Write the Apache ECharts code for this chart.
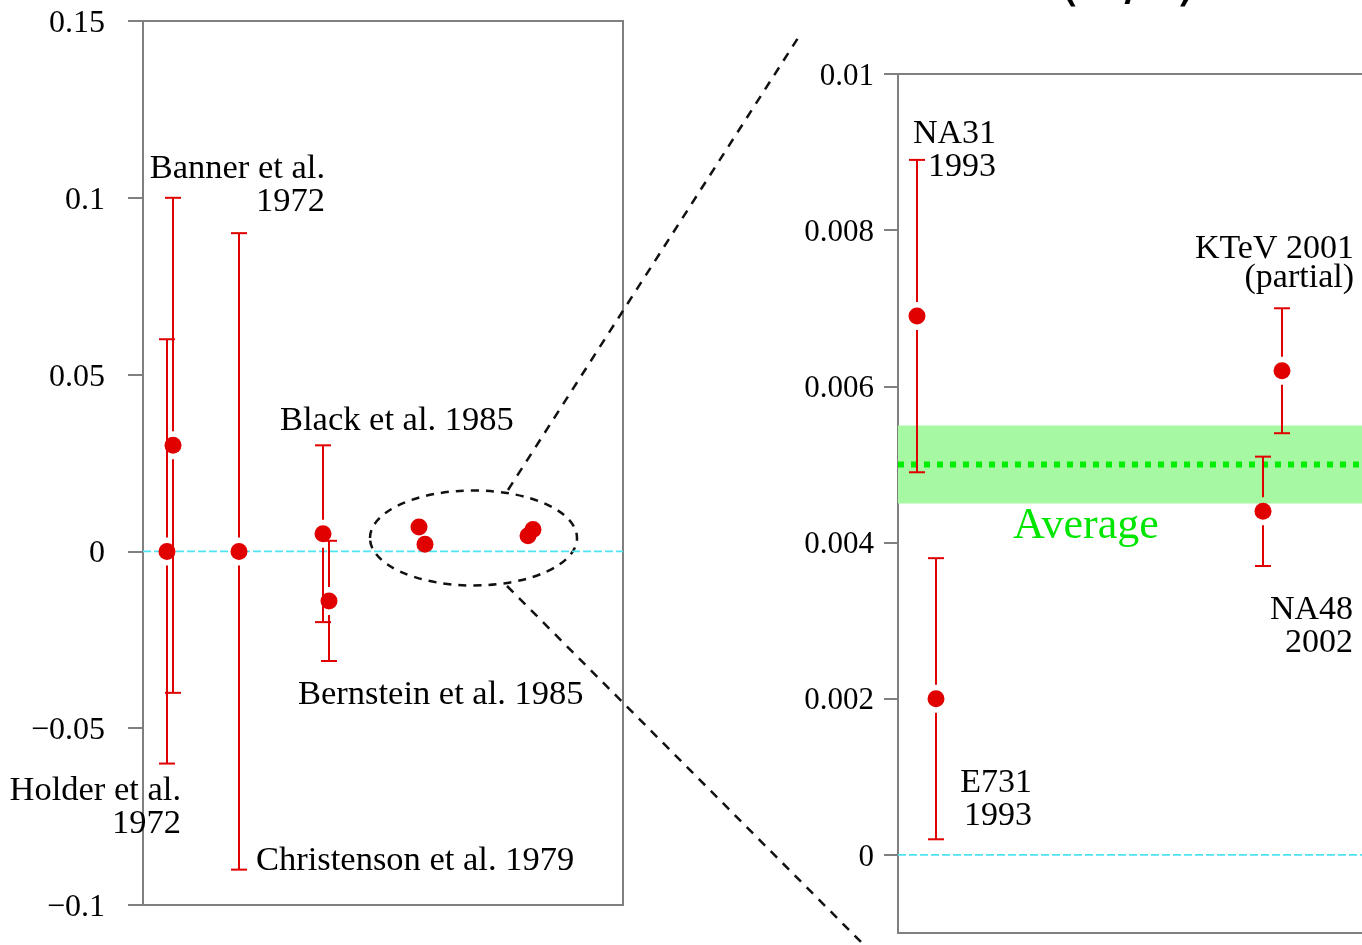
<!DOCTYPE html>
<html>
<head>
<meta charset="utf-8">
<script src="https://cdn.jsdelivr.net/npm/echarts@6/dist/echarts.min.js"></script>
<style>
html,body{margin:0;padding:0;background:#fff;}
#chart{width:1362px;height:945px;}
</style>
</head>
<body>
<div id="chart"></div>
<script>
// ---------- data ----------
// early measurements (left panel only)
const earlyNames  = ['Holder et al. 1972', 'Banner et al. 1972', 'Christenson et al. 1979', 'Black et al. 1985', 'Bernstein et al. 1985'];
const earlyValues = [0, 0.030, 0, 0.005, -0.014];
const earlyHigh   = [0.06, 0.10, 0.09, 0.03, 0.003];
const earlyLow    = [-0.06, -0.04, -0.09, -0.02, -0.031];

// precise measurements (both panels)
const recentNames  = ['NA31 1993', 'E731 1993', 'NA48 2002', 'KTeV 2001 (partial)'];
const recentValues = [0.0069, 0.0020, 0.0044, 0.0062];
const recentHigh   = [0.0089, 0.0038, 0.0051, 0.0070];
const recentLow    = [0.0049, 0.0002, 0.0037, 0.0054];

const averageValue = 0.0050;
const averageBand  = [0.0045, 0.0055];

// horizontal slots (the x axis carries no scale)
const earlySlotLeft   = [2.4, 3.0, 9.6, 18.0, 18.6];
const recentSlotLeft  = [27.6, 28.2, 38.5, 39.0];
const recentSlotRight = [1.9, 3.8, 36.5, 38.4];

// tick values and labels
const leftTicks       = [-0.1, -0.05, 0, 0.05, 0.1, 0.15];
const leftTickLabels  = ['\u22120.1', '\u22120.05', '0', '0.05', '0.1', '0.15'];
const rightTicks      = [0, 0.002, 0.004, 0.006, 0.008, 0.01];
const rightTickLabels = ['0', '0.002', '0.004', '0.006', '0.008', '0.01'];

// ---------- annotation layout ----------
const leftNotes = [
  { text: 'Banner et al.\n1972',      at: [18.2, 0.1041],  align: 'right' },
  { text: 'Black et al. 1985',        at: [13.7, 0.0376],  align: 'left' },
  { text: 'Bernstein et al. 1985',    at: [15.5, -0.0398], align: 'left' },
  { text: 'Holder et al.\n1972',      at: [3.8, -0.0718],  align: 'right' },
  { text: 'Christenson et al. 1979',  at: [11.3, -0.0867], align: 'left' }
];
const rightNotes = [
  { text: 'NA31\n1993',              at: [9.8, 0.009051],  align: 'right', lh: 33 },
  { text: 'KTeV 2001\n(partial)',    at: [45.6, 0.007609], align: 'right', lh: 29 },
  { text: 'NA48\n2002',              at: [45.5, 0.002955], align: 'right', lh: 33 },
  { text: 'E731\n1993',              at: [13.4, 0.000737], align: 'right', lh: 33 }
];
const averageNote = { text: 'Average', at: [11.5, 0.00424] };

// ---------- styles ----------
const RED = '#e00000';
const GRAY = '#808080';
const CYAN = '#4ee4f0';
const GREEN = '#00ee00';
const SERIF = '"Liberation Serif", "Times New Roman", serif';
const TEXT_NUDGE = 2.5;

function tickFormatter(ticks, labels) {
  return function (v) {
    const i = ticks.findIndex(t => Math.abs(t - v) < 1e-9);
    return i >= 0 ? '{v|' + labels[i] + '}' : '';
  };
}

function errorSeries(gi, slots, lows, highs, vals) {
  return {
    type: 'custom', xAxisIndex: gi, yAxisIndex: gi, silent: true,
    data: slots.map((s, i) => [s, lows[i], highs[i], vals[i]]),
    renderItem(params, api) {
      const x = api.value(0);
      const lo = api.coord([x, api.value(1)]);
      const hi = api.coord([x, api.value(2)]);
      const c = api.coord([x, api.value(3)]);
      const gap = 14, cap = 8;
      const st = () => ({ stroke: RED, lineWidth: 2 });
      const ch = [];
      if (c[1] - gap > hi[1]) {
        ch.push({ type: 'line', shape: { x1: c[0], y1: hi[1], x2: c[0], y2: c[1] - gap }, style: st() });
        ch.push({ type: 'line', shape: { x1: c[0] - cap, y1: hi[1], x2: c[0] + cap, y2: hi[1] }, style: st() });
      }
      if (lo[1] > c[1] + gap) {
        ch.push({ type: 'line', shape: { x1: c[0], y1: c[1] + gap, x2: c[0], y2: lo[1] }, style: st() });
        ch.push({ type: 'line', shape: { x1: c[0] - cap, y1: lo[1], x2: c[0] + cap, y2: lo[1] }, style: st() });
      }
      return { type: 'group', children: ch };
    }
  };
}

function dotSeries(gi, slots, vals) {
  return {
    type: 'scatter', xAxisIndex: gi, yAxisIndex: gi, silent: true,
    symbol: 'circle', symbolSize: 17,
    itemStyle: { color: RED, opacity: 1 },
    data: slots.map((s, i) => [s, vals[i]])
  };
}

function hLineSeries(gi, value, style) {
  return {
    type: 'custom', xAxisIndex: gi, yAxisIndex: gi, silent: true,
    data: [[0, value]],
    renderItem(params, api) {
      const cs = params.coordSys;
      const y = api.coord([0, api.value(1)])[1];
      return { type: 'line', shape: { x1: cs.x, y1: y, x2: cs.x + cs.width, y2: y }, style: style };
    }
  };
}

function bandSeries(gi, band, color) {
  return {
    type: 'custom', xAxisIndex: gi, yAxisIndex: gi, silent: true,
    data: [[band[0], band[1]]],
    renderItem(params, api) {
      const cs = params.coordSys;
      const y0 = api.coord([0, api.value(0)])[1];
      const y1 = api.coord([0, api.value(1)])[1];
      return { type: 'rect', shape: { x: cs.x, y: Math.min(y0, y1), width: cs.width, height: Math.abs(y0 - y1) }, style: { fill: color } };
    }
  };
}

function noteSeries(gi, notes, font, color, defLh) {
  return {
    type: 'custom', xAxisIndex: gi, yAxisIndex: gi, silent: true, clip: false,
    data: notes.map(n => n.at),
    renderItem(params, api) {
      const n = notes[params.dataIndex];
      const p = api.coord([api.value(0), api.value(1)]);
      return {
        type: 'text',
        style: { text: n.text, x: p[0], y: p[1] + TEXT_NUDGE, align: n.align || 'left', verticalAlign: 'middle',
                 font: font, fill: color, lineHeight: n.lh || defLh }
      };
    }
  };
}

const chart = echarts.init(document.getElementById('chart'), null, { renderer: 'canvas', width: 1362, height: 945 });

const frameAxis = (gi, pos, max) => ({
  type: 'value', gridIndex: gi, position: pos, min: 0, max: max,
  axisLine: { show: true, onZero: false, lineStyle: { color: GRAY, width: 2 } },
  axisTick: { show: false }, axisLabel: { show: false }, splitLine: { show: false }
});

const option = {
  animation: false,
  backgroundColor: '#ffffff',
  grid: [
    { left: 143, top: 21, width: 480, height: 884, show: true, borderColor: GRAY, borderWidth: 2, containLabel: false },
    { left: 898, top: 74, width: 464, height: 859, show: false, containLabel: false }
  ],
  xAxis: [
    { type: 'value', gridIndex: 0, min: 0, max: 48, show: false },
    frameAxis(1, 'bottom', 46.4),
    frameAxis(1, 'top', 46.4)
  ],
  yAxis: [
    {
      type: 'value', gridIndex: 0, min: -0.1, max: 0.15,
      axisLine: { show: true, lineStyle: { color: GRAY, width: 2 } },
      axisTick: { show: true, inside: false, length: 15, customValues: leftTicks, lineStyle: { color: GRAY, width: 2 } },
      axisLabel: { customValues: leftTicks, formatter: tickFormatter(leftTicks, leftTickLabels), margin: 38,
                   fontFamily: SERIF, fontSize: 32, color: '#000',
                   rich: { v: { fontFamily: SERIF, fontSize: 32, color: '#000', padding: [5, 0, 0, 0] } } },
      splitLine: { show: false }
    },
    {
      type: 'value', gridIndex: 1, min: -0.001, max: 0.01,
      axisLine: { show: true, onZero: false, lineStyle: { color: GRAY, width: 2 } },
      axisTick: { show: true, inside: false, length: 14, customValues: rightTicks, lineStyle: { color: GRAY, width: 2 } },
      axisLabel: { customValues: rightTicks, formatter: tickFormatter(rightTicks, rightTickLabels), margin: 24,
                   fontFamily: SERIF, fontSize: 31, color: '#000',
                   rich: { v: { fontFamily: SERIF, fontSize: 31, color: '#000', padding: [5, 0, 0, 0] } } },
      splitLine: { show: false }
    }
  ],
  series: [
    // left panel
    hLineSeries(0, 0, { stroke: CYAN, lineWidth: 1.6, lineDash: [8, 3] }),
    errorSeries(0, earlySlotLeft, earlyLow, earlyHigh, earlyValues),
    errorSeries(0, recentSlotLeft, recentLow, recentHigh, recentValues),
    dotSeries(0, earlySlotLeft, earlyValues),
    dotSeries(0, recentSlotLeft, recentValues),
    noteSeries(0, leftNotes, '34.5px ' + SERIF, '#000', 33),
    // right panel
    bandSeries(1, averageBand, '#a6f8a2'),
    hLineSeries(1, averageValue, { stroke: GREEN, lineWidth: 6, lineDash: [6, 7] }),
    hLineSeries(1, 0, { stroke: CYAN, lineWidth: 1.6, lineDash: [8, 3] }),
    errorSeries(1, recentSlotRight, recentLow, recentHigh, recentValues),
    dotSeries(1, recentSlotRight, recentValues),
    noteSeries(1, rightNotes, '34px ' + SERIF, '#000', 33),
    noteSeries(1, [averageNote], '44px ' + SERIF, '#00e600', 44)
  ],
  graphic: [
    { type: 'ellipse', silent: true, shape: { cx: 473.5, cy: 538, rx: 103.5, ry: 47.5 },
      style: { fill: 'none', stroke: '#111', lineWidth: 2.5, lineDash: [8, 7] } },
    { type: 'line', silent: true, shape: { x1: 508, y1: 490, x2: 798, y2: 38 },
      style: { stroke: '#111', lineWidth: 2.5, lineDash: [9, 8] } },
    { type: 'line', silent: true, shape: { x1: 507, y1: 586, x2: 864, y2: 945 },
      style: { stroke: '#111', lineWidth: 2.5, lineDash: [9, 8] } },
    { type: 'text', silent: true, x: 984, y: -16,
      style: { text: 'Re(\u03b5\u2032/\u03b5)', font: '58px "DejaVu Sans"', align: 'left', verticalAlign: 'middle', fill: '#000' } }
  ]
};

chart.setOption(option);
</script>
</body>
</html>
